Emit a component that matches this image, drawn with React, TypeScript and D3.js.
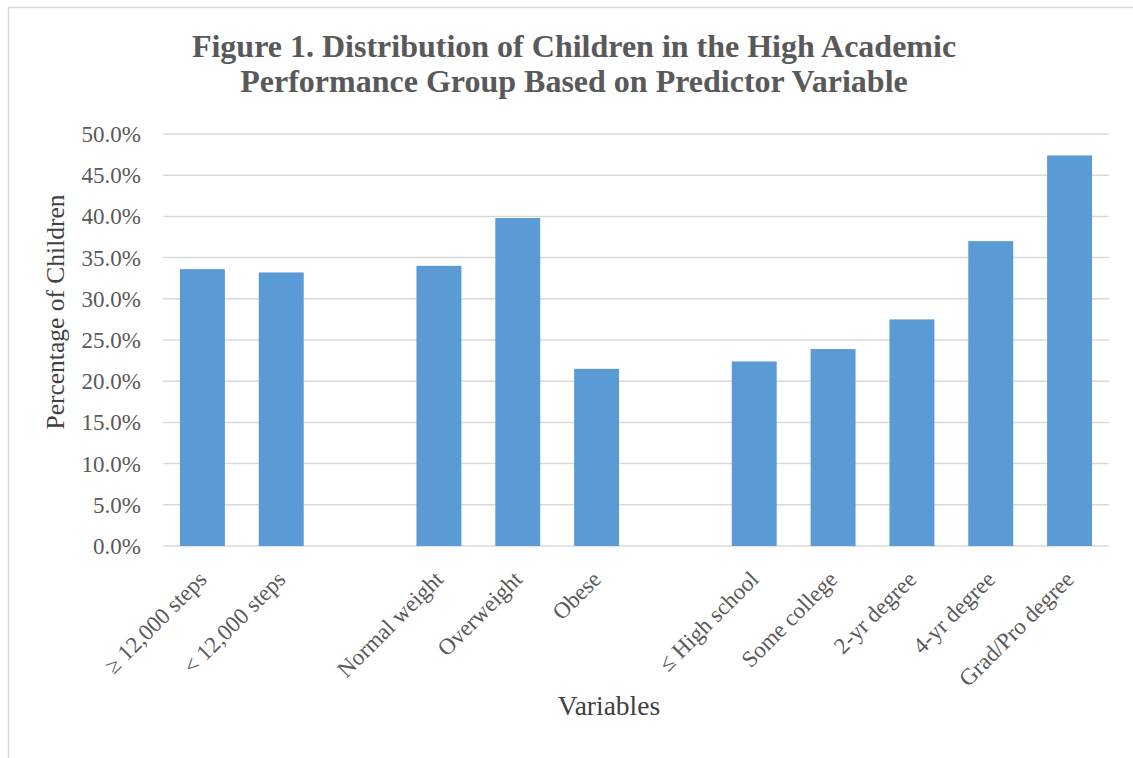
import * as d3 from "d3";

const categories = [
  "≥ 12,000 steps",
  "< 12,000 steps",
  "",
  "Normal weight",
  "Overweight",
  "Obese",
  " ",
  "≤ High school",
  "Some college",
  "2-yr degree",
  "4-yr degree",
  "Grad/Pro degree",
];
const values: (number | null)[] = [
  33.6, 33.2, null, 34.0, 39.8, 21.5, null, 22.4, 23.9, 27.5, 37.0, 47.4,
];
const yTicks = [0, 5, 10, 15, 20, 25, 30, 35, 40, 45, 50];

const WIDTH = 1133;
const HEIGHT = 758;
const MARGIN = { top: 134, right: 24, bottom: 212, left: 163 };
const TEXT = "#595959";
const GRID = "#d9d9d9";
const FONT = "'Liberation Serif', 'Times New Roman', serif";

export default function App() {
  const boundsWidth = WIDTH - MARGIN.left - MARGIN.right;
  const boundsHeight = HEIGHT - MARGIN.top - MARGIN.bottom;

  const xScale = d3
    .scaleBand()
    .domain(categories)
    .range([0, boundsWidth])
    .paddingInner(0.43)
    .paddingOuter(0.215);
  const yScale = d3.scaleLinear().domain([0, 50]).range([boundsHeight, 0]);

  return (
    <svg
      width={WIDTH}
      height={HEIGHT}
      style={{ position: "absolute", left: 0, top: 0, background: "#fff" }}
    >
      <rect x={8.5} y={7.5} width={1140} height={770} fill="#fff" stroke={GRID} strokeWidth={1.5} />
      <text
        x={574}
        y={57}
        textAnchor="middle"
        fontFamily={FONT}
        fontWeight="bold"
        fontSize={32}
        fill={TEXT}
      >
        <tspan x={574}>Figure 1. Distribution of Children in the High Academic</tspan>
        <tspan x={574} dy={35}>Performance Group Based on Predictor Variable</tspan>
      </text>
      <g transform={`translate(${MARGIN.left},${MARGIN.top})`}>
        {yTicks.map((t) => (
          <g key={t}>
            <line
              x1={0}
              x2={boundsWidth}
              y1={yScale(t)}
              y2={yScale(t)}
              stroke={GRID}
              strokeWidth={1.5}
            />
            <text
              x={-22}
              y={yScale(t)}
              dy="0.35em"
              textAnchor="end"
              fontFamily={FONT}
              fontSize={23}
              fill={TEXT}
            >
              {d3.format(".1f")(t)}%
            </text>
          </g>
        ))}
        {categories.map((c, i) => {
          const v = values[i];
          if (v === null) return null;
          const x = xScale(c) ?? 0;
          return (
            <rect
              key={c}
              x={x}
              y={yScale(v)}
              width={xScale.bandwidth()}
              height={boundsHeight - yScale(v)}
              fill="#5b9bd5"
            />
          );
        })}
        {categories.map((c) => {
          if (c.trim() === "") return null;
          const cx = (xScale(c) ?? 0) + xScale.bandwidth() / 2;
          return (
            <text
              key={c}
              transform={`translate(${cx},${boundsHeight + 29}) rotate(-45)`}
              textAnchor="end"
              dy="0.35em"
              fontFamily={FONT}
              fontSize={23}
              fill={TEXT}
            >
              {c}
            </text>
          );
        })}
      </g>
      <text
        transform="translate(64,312) rotate(-90)"
        textAnchor="middle"
        fontFamily={FONT}
        fontSize={25.5}
        fill="#404040"
      >
        Percentage of Children
      </text>
      <text
        x={609}
        y={715}
        textAnchor="middle"
        fontFamily={FONT}
        fontSize={27.5}
        fill="#404040"
      >
        Variables
      </text>
    </svg>
  );
}
